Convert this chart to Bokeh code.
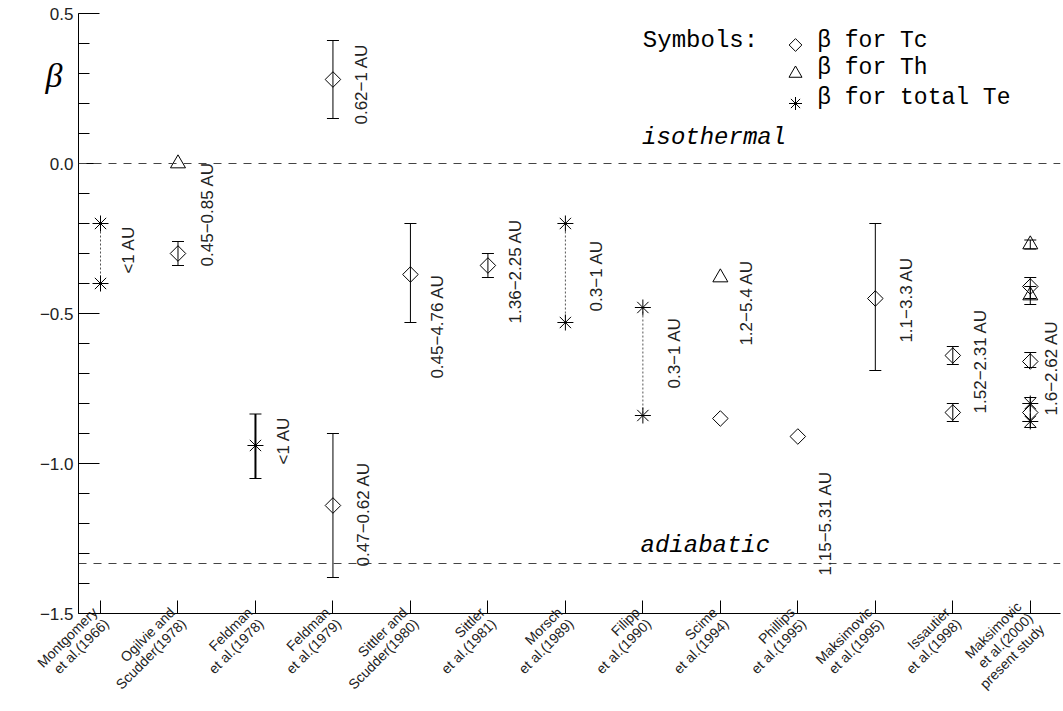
from math import pi
from bokeh.plotting import figure
from bokeh.models import (Range1d, FixedTicker, Whisker, TeeHead, Span, Label,
                          ColumnDataSource, LinearAxis, LabelSet)
from bokeh.core.properties import value
from bokeh.embed import file_html
from bokeh.resources import INLINE

# ---------------- data ----------------
studies = ["Montgomery\net al.(1966)", "Ogilvie and\nScudder(1978)",
           "Feldman\net al.(1978)", "Feldman\net al.(1979)",
           "Sittler and\nScudder(1980)", "Sittler\net al.(1981)",
           "Morsch\net al.(1989)", "Filipp\net al.(1990)",
           "Scime\net al.(1994)", "Phillips\net al.(1995)",
           "Maksimovic\net al.(1995)", "Issautier\net al.(1998)",
           "Maksimovic\net al.(2000)\npresent study"]
study_idx = list(range(1, 14))

# beta for Tc (diamonds)
tc_x = [2, 4, 4, 5, 6, 9, 10, 11, 12, 12, 13, 13, 13]
tc_y = [-0.30, 0.28, -1.14, -0.37, -0.34, -0.85, -0.91, -0.45, -0.64, -0.83,
        -0.41, -0.66, -0.83]
tc_err_x = [2, 4, 4, 5, 6, 11, 12, 12, 13, 13, 13]
tc_err_lo = [-0.34, 0.15, -1.38, -0.53, -0.38, -0.69, -0.67, -0.86, -0.45,
             -0.68, -0.88]
tc_err_hi = [-0.26, 0.41, -0.90, -0.20, -0.30, -0.20, -0.61, -0.80, -0.38,
             -0.63, -0.78]

# beta for Th (triangles)
th_x = [2, 9, 13, 13]
th_y = [0.0, -0.38, -0.27, -0.44]
th_err_x = [13, 13]
th_err_lo = [-0.285, -0.47]
th_err_hi = [-0.255, -0.41]

# beta for total Te (asterisks)
te_x = [1, 1, 3, 7, 7, 8, 8, 13, 13]
te_y = [-0.20, -0.40, -0.94, -0.20, -0.53, -0.48, -0.84, -0.80, -0.86]
te_err_x = [3]
te_err_lo = [-1.05]
te_err_hi = [-0.835]

# ranges joined by dotted lines (same study, two values)
rng_x = [1, 7, 8]
rng_top = [-0.20, -0.20, -0.48]
rng_bot = [-0.40, -0.53, -0.84]

# distance-range annotations
ann_x = [1, 2, 3, 4, 4, 5, 6, 7, 8, 9, 10, 11, 12, 13]
ann_y = [-0.367, -0.343, -1.003, 0.13, -1.343, -0.717, -0.533, -0.493, -0.75,
         -0.607, -1.373, -0.597, -0.833, -0.84]
ann_text = ["<1 AU", "0.45\u22120.85 AU", "<1 AU", "0.62\u22121 AU",
            "0.47\u22120.62 AU", "0.45\u22124.76 AU", "1.36\u22122.25 AU",
            "0.3\u22121 AU", "0.3\u22121 AU", "1.2\u22125.4 AU",
            "1.15\u22125.31 AU", "1.1\u22123.3 AU", "1.52\u22122.31 AU",
            "1.6\u22122.62 AU"]
ann_dx = [28, 30, 28, 29, 31, 27, 28, 31, 32, 26, 28, 31, 28, 21]

y_ticks = [0.5, 0, -0.5, -1, -1.5]
y_tick_labels = ["0.5", "0.0", "\u22120.5", "\u22121.0", "\u22121.5"]
isothermal = 0.0
adiabatic = -4.0 / 3.0
beta_label_y = 0.293

# ---------------- figure ----------------
p = figure(width=1063, height=711, x_range=Range1d(0.716, 13.39),
           y_range=Range1d(-1.5, 0.5), output_backend="svg",
           toolbar_location=None, min_border_left=78, min_border_right=3,
           min_border_top=13, min_border_bottom=98)
p.outline_line_color = None
p.grid.visible = False
p.background_fill_color = "white"

# x axis
xa = p.xaxis[0]
xa.ticker = FixedTicker(ticks=study_idx)
xa.major_label_overrides = {i: s for i, s in zip(study_idx, studies)}
xa.major_label_orientation = pi / 4
xa.major_label_text_font = "Liberation Sans"
xa.major_label_text_font_size = "14px"
xa.major_label_text_line_height = 1.0
xa.major_label_text_color = "#222222"
xa.major_label_standoff = 2
xa.major_tick_in = 13
xa.major_tick_out = 0
xa.minor_tick_in = 0
xa.minor_tick_out = 0
xa.axis_line_color = "black"
xa.major_tick_line_color = "black"

# y axis
ya = p.yaxis[0]
minor = [round(-1.5 + 0.1 * k, 2) for k in range(21)]
ya.ticker = FixedTicker(ticks=y_ticks, minor_ticks=minor)
ya.major_label_overrides = {t: s for t, s in zip(y_ticks, y_tick_labels)}
ya.major_label_text_font = "Liberation Sans"
ya.major_label_text_font_size = "17px"
ya.major_label_text_color = "#222222"
ya.major_label_standoff = 5
ya.major_tick_in = 21
ya.major_tick_out = 0
ya.minor_tick_in = 11
ya.minor_tick_out = 0
ya.axis_line_color = "black"
ya.major_tick_line_color = "black"
ya.minor_tick_line_color = "black"

# beta symbol as the y-axis title (extra axis with a single labelled tick)
beta_axis = LinearAxis(ticker=FixedTicker(ticks=[beta_label_y]),
                       major_label_overrides={beta_label_y: "\u03b2"},
                       axis_line_color=None, major_tick_line_color=None,
                       minor_tick_line_color=None, major_tick_in=0,
                       major_tick_out=0, minor_tick_in=0, minor_tick_out=0,
                       major_label_standoff=-26,
                       major_label_text_font="Liberation Serif",
                       major_label_text_font_style="italic",
                       major_label_text_font_size="34px",
                       major_label_text_color="black")
p.add_layout(beta_axis, "left")

# reference lines
for loc in (isothermal, adiabatic):
    p.add_layout(Span(location=loc, dimension="width", line_color="#444444",
                      line_dash="8 7", line_width=1))

# dotted connectors
p.segment(x0=rng_x, y0=rng_top, x1=rng_x, y1=rng_bot, line_color="#555555",
          line_dash="2 2", line_width=1)

# error bars
def add_err(xs, lo, hi, lw=1):
    src = ColumnDataSource(dict(x=xs, lo=lo, hi=hi))
    p.add_layout(Whisker(source=src, base="x", lower="lo", upper="hi",
                         dimension="height", line_color="black", line_width=lw,
                         upper_head=TeeHead(size=12, line_color="black", line_width=1),
                         lower_head=TeeHead(size=12, line_color="black", line_width=1)))

add_err(tc_err_x, tc_err_lo, tc_err_hi)
add_err(th_err_x, th_err_lo, th_err_hi)
add_err(te_err_x, te_err_lo, te_err_hi, lw=2)

# markers
p.scatter(tc_x, tc_y, marker="square", angle=pi / 4, size=11, fill_color=None,
          line_color="black", line_width=1)
p.scatter(th_x, th_y, marker="triangle", size=15, fill_color=None,
          line_color="black", line_width=1)
p.scatter(te_x, te_y, marker="asterisk", size=16, line_color="black",
          line_width=1)

# annotations
ann_src = ColumnDataSource(dict(x=ann_x, y=ann_y, text=ann_text, dx=ann_dx))
p.add_layout(LabelSet(source=ann_src, x="x", y="y", text="text", x_offset="dx",
                      angle=pi / 2, text_align="left", text_baseline="middle",
                      text_font=value("Liberation Sans"), text_font_size="17px",
                      text_color="#222222"))

# legend ("Symbols:")
leg_mx = 9.97
leg_tx = 10.25
p.add_layout(Label(x=8.0, y=0.41, text="Symbols:", text_font="Liberation Mono",
                   text_font_size="24px", text_baseline="middle", text_color="black"))
leg_rows = [0.41, 0.32, 0.22]
leg_marks = [0.395, 0.30, 0.20]
leg_text = ["\u03b2 for Tc", "\u03b2 for Th", "\u03b2 for total Te"]
for yy, tt in zip(leg_rows, leg_text):
    p.add_layout(Label(x=leg_tx, y=yy, text=tt, text_font="Liberation Mono",
                       text_font_size="23px", text_baseline="middle",
                       text_color="black"))
p.scatter([leg_mx], [leg_marks[0]], marker="square", angle=pi / 4, size=9,
          fill_color=None, line_color="black")
p.scatter([leg_mx], [leg_marks[1]], marker="triangle", size=13,
          fill_color=None, line_color="black")
p.scatter([leg_mx], [leg_marks[2]], marker="asterisk", size=13,
          line_color="black")

p.add_layout(Label(x=7.99, y=0.087, text="isothermal", text_font="Liberation Mono",
                   text_font_style="italic", text_font_size="24px",
                   text_baseline="middle", text_color="black"))
p.add_layout(Label(x=7.97, y=-1.273, text="adiabatic", text_font="Liberation Mono",
                   text_font_style="italic", text_font_size="24px",
                   text_baseline="middle", text_color="black"))

open("out.html", "w").write(file_html(p, INLINE))
